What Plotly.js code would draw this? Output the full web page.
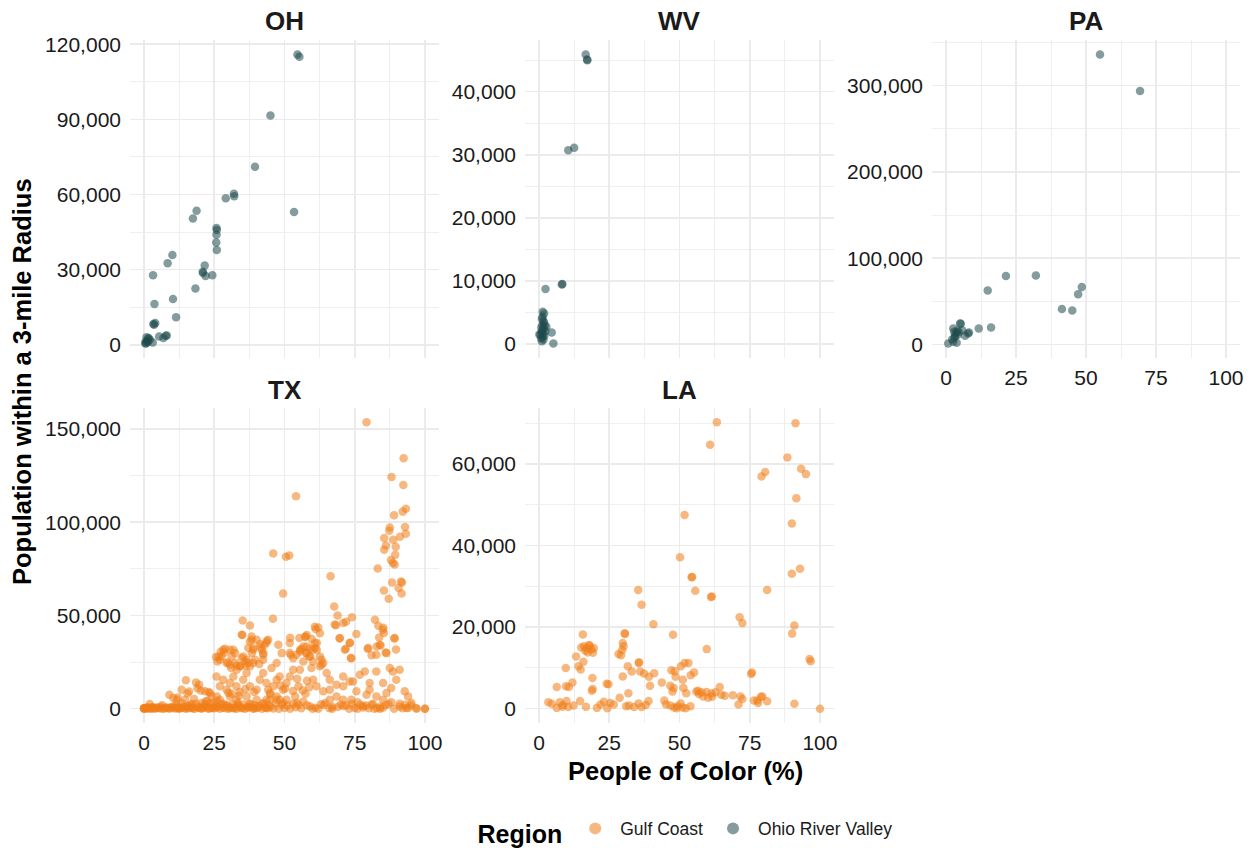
<!DOCTYPE html>
<html>
<head>
<meta charset="utf-8">
<script src="https://cdn.plot.ly/plotly-3.0.1.min.js"></script>
<style>html,body{margin:0;padding:0;background:#fff;}#chart{width:1255px;height:848px;}</style>
</head>
<body>
<div id="chart"></div>
<script>
// ---------- DATA ----------
const states = ["OH", "WV", "PA", "TX", "LA"];
const regions = ["Gulf Coast", "Ohio River Valley"];
const xTicks = [0, 25, 50, 75, 100];

const oh_x = [54.6, 55.3, 45.0, 39.5, 29.1, 32.0, 32.1, 53.4, 18.7, 17.4, 25.8, 25.9, 25.8, 25.7, 25.9, 10.1, 8.4, 21.6, 20.9, 21.0, 21.9, 24.3, 3.2, 18.3, 10.3, 3.7, 11.4, 3.3, 4.0, 3.6, 5.4, 6.9, 7.7, 8.1, 3.1, 1.0, 1.6, 0.4, 2.1, 1.3, 0.6, 1.5, 0.9, 0.7];
const oh_y = [115900, 115000, 91500, 71100, 58500, 60300, 59300, 53000, 53500, 50400, 46600, 45800, 43900, 40800, 37800, 35800, 32600, 31700, 29200, 28700, 27500, 27800, 27800, 22500, 18300, 16300, 11000, 8300, 8700, 8000, 3300, 2700, 3600, 3700, 900, 1400, 2700, 600, 2000, 1000, 1300, 2400, 3000, 500];

const wv_x = [16.6, 17.1, 17.2, 10.4, 12.5, 2.3, 8.1, 8.3, 1.3, 1.8, 1.0, 1.5, 1.2, 2.0, 0.8, 1.6, 1.1, 2.2, 0.9, 1.4, 0.5, 1.9, 1.2, 0.7, 1.6, 4.5, 5.1, 0.1, 2.6, 1.0, 1.8, 1.3];
const wv_y = [45900, 45100, 45000, 30700, 31100, 8700, 9400, 9500, 5100, 4800, 4000, 3600, 3000, 2900, 2600, 2400, 2100, 2000, 1800, 1600, 1500, 1300, 1100, 900, 700, 1800, 50, 1500, 2700, 400, 3400, 4300];

const pa_x = [55.0, 69.3, 21.4, 32.1, 14.9, 48.5, 47.2, 41.4, 45.1, 16.1, 11.7, 8.2, 6.8, 5.3, 5.0, 2.6, 7.9, 0.8, 2.6, 3.2, 4.0, 3.5, 4.5, 3.0, 2.2, 5.8, 3.8, 2.9, 4.2];
const pa_y = [336100, 293700, 79400, 79900, 62700, 66600, 58400, 41300, 39400, 19900, 18700, 14000, 10200, 24200, 24500, 18700, 12900, 1200, 3200, 10000, 16000, 13000, 14500, 8000, 6000, 16500, 2000, 15000, 11500];

const tx_x = [79.2, 92.4, 88.1, 92.3, 54.1, 93.2, 92.1, 89.0, 92.9, 87.5, 87.3, 93.2, 85.5, 88.7, 91.1, 89.6, 85.5, 86.1, 89.4, 46.0,
  50.5, 51.7, 87.9, 89.2, 88.6, 83.2, 66.4, 88.3, 91.8, 91.5, 85.4, 90.6, 91.7, 87.1, 49.5, 67.7, 68.9, 68.3, 71.9, 74.0,
  45.9, 35.1, 37.7, 35.0, 52.0, 69.6, 75.6, 82.2, 83.4, 85.2, 85.0, 85.4, 83.7, 89.1, 89.7, 82.8, 84.2, 86.0, 79.6, 81.0,
  73.3, 71.8, 73.6, 40.1, 41.3, 42.8, 43.7, 44.2, 41.9, 42.5, 38.3, 38.9, 38.4, 47.8, 49.0, 52.3, 55.5, 56.1, 57.9, 59.1,
  57.7, 61.5, 61.5, 62.6, 60.9, 57.3, 59.7, 63.2, 58.8, 62.0, 61.1, 57.5, 55.3, 28.8, 27.3, 28.6, 31.8, 31.2, 32.4, 30.6,
  33.0, 29.8, 34.2, 36.2, 34.8, 36.5, 37.7, 38.9, 37.1, 25.6, 27.0, 27.6, 26.1, 31.0, 33.0, 70.9, 67.9, 69.7, 73.2, 73.8,
  71.5, 83.9, 86.3, 89.2, 79.8, 82.7, 87.5, 88.6, 91.0, 89.8, 88.0, 85.1, 78.6, 76.8, 74.4, 80.3, 82.7, 75.6, 79.2, 80.3,
  82.7, 85.1, 86.3, 92.8, 94.0, 95.2, 96.9, 91.0, 93.4, 66.1, 68.5, 70.9, 73.2, 70.9, 66.1, 63.8, 61.4, 60.2, 62.6, 63.8,
  65.0, 68.5, 66.1, 70.9, 73.8, 51.9, 54.3, 55.5, 56.7, 57.9, 59.1, 60.8, 60.2, 62.6, 60.8, 57.9, 51.9, 53.1, 56.7, 60.2,
  63.2, 59.6, 55.5, 53.1, 51.9, 48.3, 49.5, 50.7, 54.3, 56.7, 59.1, 44.8, 42.4, 44.2, 47.2, 42.4, 41.5, 43.6, 42.4, 45.4,
  47.2, 38.3, 34.8, 37.7, 37.1, 38.9, 25.8, 28.2, 30.6, 31.8, 32.9, 35.3, 36.5, 37.7, 40.1, 41.2, 42.4, 43.6, 44.8, 46.0,
  47.2, 48.3, 49.5, 50.7, 30.6, 32.9, 36.5, 40.1, 43.6, 47.2, 27.0, 29.4, 9.0, 10.4, 11.6, 13.4, 14.9, 18.5, 14.6, 19.6,
  21.7, 23.5, 25.9, 24.7, 27.0, 17.0, 20.5, 22.5, 28.5, 33.5, 38.0, 30.0, 34.0, 23.0, 55.0, 57.5, 53.0, 58.0, 64.5, 76.0,
  78.0, 81.5, 84.0, 88.0, 71.0, 67.0, 26.5, 28.2, 30.6, 35.3, 35.9, 29.4, 34.2, 32.4, 39.5, 41.0,
  0, 0, 0, 0, 0.5, 1, 1.5, 2, 2.5, 3, 3.5, 4, 5, 5.5, 6, 7, 7.5, 8, 9, 10, 10.5, 11, 12, 12.5, 13, 14, 15, 15.5, 16, 17,
  18, 19, 20, 20.5, 21, 22, 23, 24, 25, 26, 27, 28, 29, 30, 31, 32, 33, 34, 35, 36, 37, 38, 39, 40, 41, 42, 43, 44, 45, 46,
  48, 50, 52, 54, 56, 60, 61, 62, 66, 67, 69, 73, 75, 76, 78, 80, 82, 83, 84, 85, 89, 92, 94, 97, 100, 100,
  2, 6.5, 11.5, 13.5, 16.5, 18.5, 21.5, 23.5, 25.5, 27.5, 29.5, 31.5, 33.5, 35.5, 37.5, 39.5, 42.5, 44.5, 47, 49, 51, 53, 55, 58, 63, 64, 70, 72, 74, 77, 79, 81, 86, 87, 91, 93, 95,
  1.2, 2.8, 4.5, 6.2, 8.5, 9.5, 11.8, 13.2, 14.5, 16.2, 17.5, 19.5, 21.2, 22.8, 24.5, 26.2, 28.8, 30.5, 32.2, 34.5, 36.8, 38.8, 40.5, 43.5,
  12.0, 15.5, 17.8, 20.2, 22.0, 24.0, 19.0, 16.0, 26.0, 33.8, 36.0, 31.2, 39.2, 45.0, 50.2, 53.8, 56.5, 58.8, 54.5, 48.5];
const tx_y = [153600, 134300, 124300, 120000, 114000, 107200, 105700, 103800, 97500, 97200, 95400, 93800, 91500, 90600, 92200, 86800, 85200, 87500, 82500, 83200,
  81500, 82200, 79800, 77300, 78200, 75200, 71100, 67700, 67700, 68200, 63400, 64700, 61800, 59000, 61800, 54800, 50000, 44800, 46600, 49100,
  48200, 47300, 44600, 39500, 38000, 37700, 40000, 47700, 44500, 43400, 42300, 40600, 38200, 37700, 31800, 33400, 33900, 30200, 32200, 28600,
  35400, 32200, 27200, 37000, 34700, 34100, 36400, 37000, 31600, 29800, 37000, 32500, 29800, 34300, 29800, 28800, 30700, 32000, 33400, 32200,
  29800, 35200, 31600, 28000, 32500, 38400, 37400, 26300, 28000, 43600, 42700, 38700, 37900, 32200, 30500, 30200, 31600, 28000, 24500, 23600,
  23200, 24800, 22700, 23200, 27200, 26300, 22700, 24500, 24500, 27700, 26300, 28000, 25300, 21800, 20900, 45900, 45200, 37900, 35200, 27100,
  31600, 34300, 29800, 37900, 32500, 28900, 21800, 20000, 20900, 15500, 11100, 13800, 20000, 18200, 14600, 13800, 20000, 9300, 7500, 10200,
  6600, 4800, 8400, 9300, 6600, 3000, 400, 1200, 400, 15500, 12900, 12000, 14600, 17300, 10200, 9300, 12000, 15500, 22700, 24500,
  19100, 6600, 4800, 4800, 4800, 35200, 28900, 31600, 33400, 29800, 28000, 35200, 31600, 40500, 43900, 39500, 29800, 27100, 25300, 25300,
  23600, 21800, 20900, 20900, 17300, 4800, 3000, 4800, 3000, 3900, 1200, 4800, 3000, 10200, 6600, 26300, 33000, 35200, 28900, 21800,
  24500, 38700, 39600, 36000, 32500, 31600, 17300, 15500, 13800, 17300, 12000, 15500, 19100, 12000, 10200, 15500, 19100, 13800, 8400, 12000,
  15500, 17300, 10200, 13800, 6600, 4800, 6600, 4800, 4800, 4800, 12000, 10200, 7500, 5700, 4800, 10200, 15200, 14100, 4800, 12900,
  9300, 8400, 6600, 3000, 4800, 2500, 3000, 4200, 2500, 2000, 2500, 8600, 9000, 9000, 12000, 8000, 9500, 15000, 3000, 3500,
  1500, 2500, 1000, 3500, 1500, 1000, 28000, 31600, 31600, 28000, 25300, 24500, 22700, 29800, 26300, 24000,
  0, 200, 400, 100, 300, 0, 600, 200, 0, 900, 300, 0, 500, 200, 1000, 0, 300, 700, 0, 400, 1200, 100, 600, 0, 300, 800, 0, 1500, 200, 500,
  0, 900, 300, 0, 600, 1100, 0, 400, 200, 800, 0, 500, 1300, 0, 300, 700, 0, 1000, 200, 0, 500, 900, 0, 300, 1400, 0, 600, 200, 900, 100,
  0, 400, 0, 800, 200, 0, 500, 0, 300, 0, 900, 0, 400, 0, 600, 200, 0, 300, 0, 500, 0, 200, 400, 0, 0, 0,
  2500, 1800, 2200, 2800, 1900, 2600, 2300, 2900, 2100, 2700, 1800, 2400, 3000, 2200, 2600, 1900, 2500, 2000, 2800, 2300, 1700, 2600, 2100, 1900, 2400, 2000, 2200, 1800, 2600, 2100, 1700, 2300, 1900, 2500, 2700, 2100, 1800,
  500, 300, 700, 100, 400, 800, 200, 600, 300, 900, 100, 500, 700, 200, 400, 800, 300, 600, 100, 500, 900, 200, 700, 400,
  6000, 8200, 5200, 9800, 3800, 6800, 11000, 9200, 4200, 7000, 10500, 8000, 9000, 7800, 10800, 6500, 9800, 11500, 16000, 12500];

const la_x = [63.3, 91.3, 60.9, 88.4, 80.5, 79.2, 93.3, 95.0, 91.6, 51.8, 90.0, 50.2, 92.9, 90.0, 54.3, 54.5, 35.3, 55.6, 81.2, 61.5,
  61.2, 36.5, 71.4, 72.4, 40.7, 90.9, 90.1, 47.7, 30.6, 30.5, 59.7, 96.3, 96.7, 15.6, 15.0, 16.0, 17.0, 18.0, 18.7, 16.5,
  17.8, 19.5, 17.3, 19.2, 29.8, 30.1, 29.6, 28.3, 29.2, 13.2, 15.8, 14.0, 14.8, 9.5, 19.0, 31.6, 33.0, 29.8, 35.6, 35.5,
  36.0, 37.4, 39.1, 41.0, 39.5, 43.7, 47.1, 48.6, 48.3, 50.5, 51.8, 53.2, 54.0, 55.2, 18.8, 19.1, 9.6, 10.6, 11.9, 6.3,
  24.1, 24.7, 31.8, 46.7, 47.9, 51.2, 51.4, 52.4, 47.5, 56.0, 56.6, 57.8, 59.6, 61.4, 62.8, 64.3, 64.9, 66.1, 58.4, 60.2,
  61.6, 56.9, 69.0, 71.7, 72.4, 76.5, 77.7, 79.0, 79.5, 78.0, 81.2, 100.0, 90.9, 71.0, 75.8, 75.5, 3.3, 4.5, 6.3, 7.4,
  8.3, 9.8, 10.4, 12.3, 14.6, 16.7, 21.9, 23.1, 24.3, 25.3, 26.6, 28.7, 31.0, 32.0, 33.8, 35.4, 36.5, 38.0, 39.0, 44.6,
  45.2, 46.8, 48.0, 49.3, 50.4, 51.1, 52.2, 53.9, 49.0, 8.5, 20.6];
const la_y = [70200, 70000, 64700, 61600, 58000, 56900, 58800, 57500, 51600, 47500, 45400, 37100, 34300, 33100, 32200, 32300, 29100, 28900, 29100, 27500,
  27400, 25500, 22400, 21000, 20700, 20400, 18400, 18100, 18300, 18500, 14600, 12200, 11600, 18200, 15000, 15300, 14800, 15400, 14500, 14200,
  15600, 14900, 13800, 13700, 16100, 15300, 14400, 13400, 13100, 12800, 11500, 10400, 9600, 10000, 7500, 10400, 9100, 7900, 11400, 11200,
  9100, 8600, 7800, 8700, 5600, 6400, 9400, 7800, 9200, 10400, 11200, 11200, 8200, 8900, 4400, 4800, 5500, 5300, 6400, 5300,
  6100, 6000, 3800, 5600, 5100, 7100, 5100, 3800, 4200, 4200, 4400, 4000, 4100, 3700, 4000, 5300, 3400, 3200, 3000, 2700,
  2900, 3600, 3300, 3000, 2400, 2000, 2000, 2900, 3000, 1400, 1800, 0, 1200, 1000, 8900, 8500, 1600, 1200, 200, 1600,
  500, 1900, 400, 800, 1900, 500, 1000, 1700, 100, 1400, 1000, 2700, 600, 800, 400, 1300, 400, 900, 1900, 2000,
  1000, 800, 300, 600, 1300, 300, 100, 600, 100, 900, 200];

// ---------- STYLE ----------
const W = 1255, H = 848;
const FONT = "Liberation Sans, Arial, Helvetica, sans-serif";
const colGulf = "#F07D17";
const colOhio = "#1F4B4C";
const GRID = "#EBEBEB";

const panels = {
  OH: {x: [130, 439], y: [40, 358], dtick: 30000, xlabels: false, xs: oh_x, ys: oh_y, region: 1},
  WV: {x: [525, 834], y: [40, 358], dtick: 10000, xlabels: false, xs: wv_x, ys: wv_y, region: 1},
  PA: {x: [932, 1240], y: [40, 358], dtick: 100000, xlabels: true, xs: pa_x, ys: pa_y, region: 1},
  TX: {x: [130, 439], y: [408, 723], dtick: 50000, xlabels: true, xs: tx_x, ys: tx_y, region: 0},
  LA: {x: [525, 834], y: [408, 723], dtick: 20000, xlabels: true, xs: la_x, ys: la_y, region: 0}
};

const traces = [];
const layout = {
  width: W, height: H,
  margin: {l: 0, r: 0, t: 0, b: 0, autoexpand: false},
  paper_bgcolor: "#fff", plot_bgcolor: "#fff",
  font: {family: FONT, color: "#1a1a1a"},
  showlegend: true,
  annotations: [],
  legend: {
    orientation: "h", x: 0.547, xanchor: "center", y: 1 - 832 / H, yanchor: "middle",
    title: {text: "Region", side: "left", font: {size: 25, family: FONT, weight: "bold", color: "#000"}},
    font: {size: 17.5, family: FONT, color: "#1a1a1a"},
    itemsizing: "constant", tracegroupgap: 0, itemwidth: 40
  }
};

const shownLegend = {};
states.forEach((s, i) => {
  const p = panels[s];
  const n = i + 1;
  const xa = "xaxis" + (n === 1 ? "" : n), ya = "yaxis" + (n === 1 ? "" : n);
  const xr = "x" + (n === 1 ? "" : n), yr = "y" + (n === 1 ? "" : n);
  const ymin = Math.min(...p.ys), ymax = Math.max(...p.ys);
  const span = ymax - ymin;
  layout[xa] = {
    domain: [p.x[0] / W, p.x[1] / W], anchor: yr,
    range: [-5, 105], tickmode: "array", tickvals: xTicks, ticktext: xTicks.map(String),
    showticklabels: p.xlabels, ticks: "", showline: false, zeroline: false,
    showgrid: true, gridcolor: GRID, gridwidth: 1.6,
    minor: {tickmode: "array", tickvals: [12.5, 37.5, 62.5, 87.5], showgrid: true, gridcolor: GRID, gridwidth: 0.8, ticks: ""},
    tickfont: {size: 21, family: FONT, color: "#1a1a1a"}, ticklabelstandoff: 5, fixedrange: true, automargin: false
  };
  layout[ya] = {
    domain: [1 - p.y[1] / H, 1 - p.y[0] / H], anchor: xr,
    range: [ymin - 0.05 * span, ymax + 0.05 * span],
    tickmode: "linear", tick0: 0, dtick: p.dtick, tickformat: ",d",
    ticks: "", showline: false, zeroline: false,
    showgrid: true, gridcolor: GRID, gridwidth: 1.6,
    minor: {tickmode: "linear", tick0: 0, dtick: p.dtick / 2, showgrid: true, gridcolor: GRID, gridwidth: 0.8, ticks: ""},
    tickfont: {size: 21, family: FONT, color: "#1a1a1a"}, ticklabelstandoff: 8, fixedrange: true, automargin: false
  };
  const reg = regions[p.region];
  traces.push({
    type: "scatter", mode: "markers", x: p.xs, y: p.ys, xaxis: xr, yaxis: yr,
    name: reg, legendgroup: reg, legendrank: p.region + 1,
    showlegend: !shownLegend[reg],
    marker: {size: 8.5, color: p.region === 0 ? colGulf : colOhio, opacity: 0.55, line: {width: 0}},
    hoverinfo: "x+y"
  });
  shownLegend[reg] = true;
  layout.annotations.push({
    text: s, xref: "paper", yref: "paper",
    x: (p.x[0] + p.x[1]) / 2 / W, y: 1 - (p.y[0] - 18.5) / H,
    xanchor: "center", yanchor: "middle", showarrow: false,
    font: {size: 26, family: FONT, weight: "bold", color: "#1a1a1a"}
  });
});

layout.annotations.push({
  text: "People of Color (%)", xref: "paper", yref: "paper",
  x: 685 / W, y: 1 - 771 / H, xanchor: "center", yanchor: "middle", showarrow: false,
  font: {size: 25.5, family: FONT, weight: "bold", color: "#000"}
});
layout.annotations.push({
  text: "Population within a 3-mile Radius", xref: "paper", yref: "paper",
  x: 22 / W, y: 1 - 382 / H, xanchor: "center", yanchor: "middle", showarrow: false, textangle: -90,
  font: {size: 25.5, family: FONT, weight: "bold", color: "#000"}
});

Plotly.newPlot("chart", traces, layout, {displayModeBar: false, staticPlot: true});
</script>
</body>
</html>
